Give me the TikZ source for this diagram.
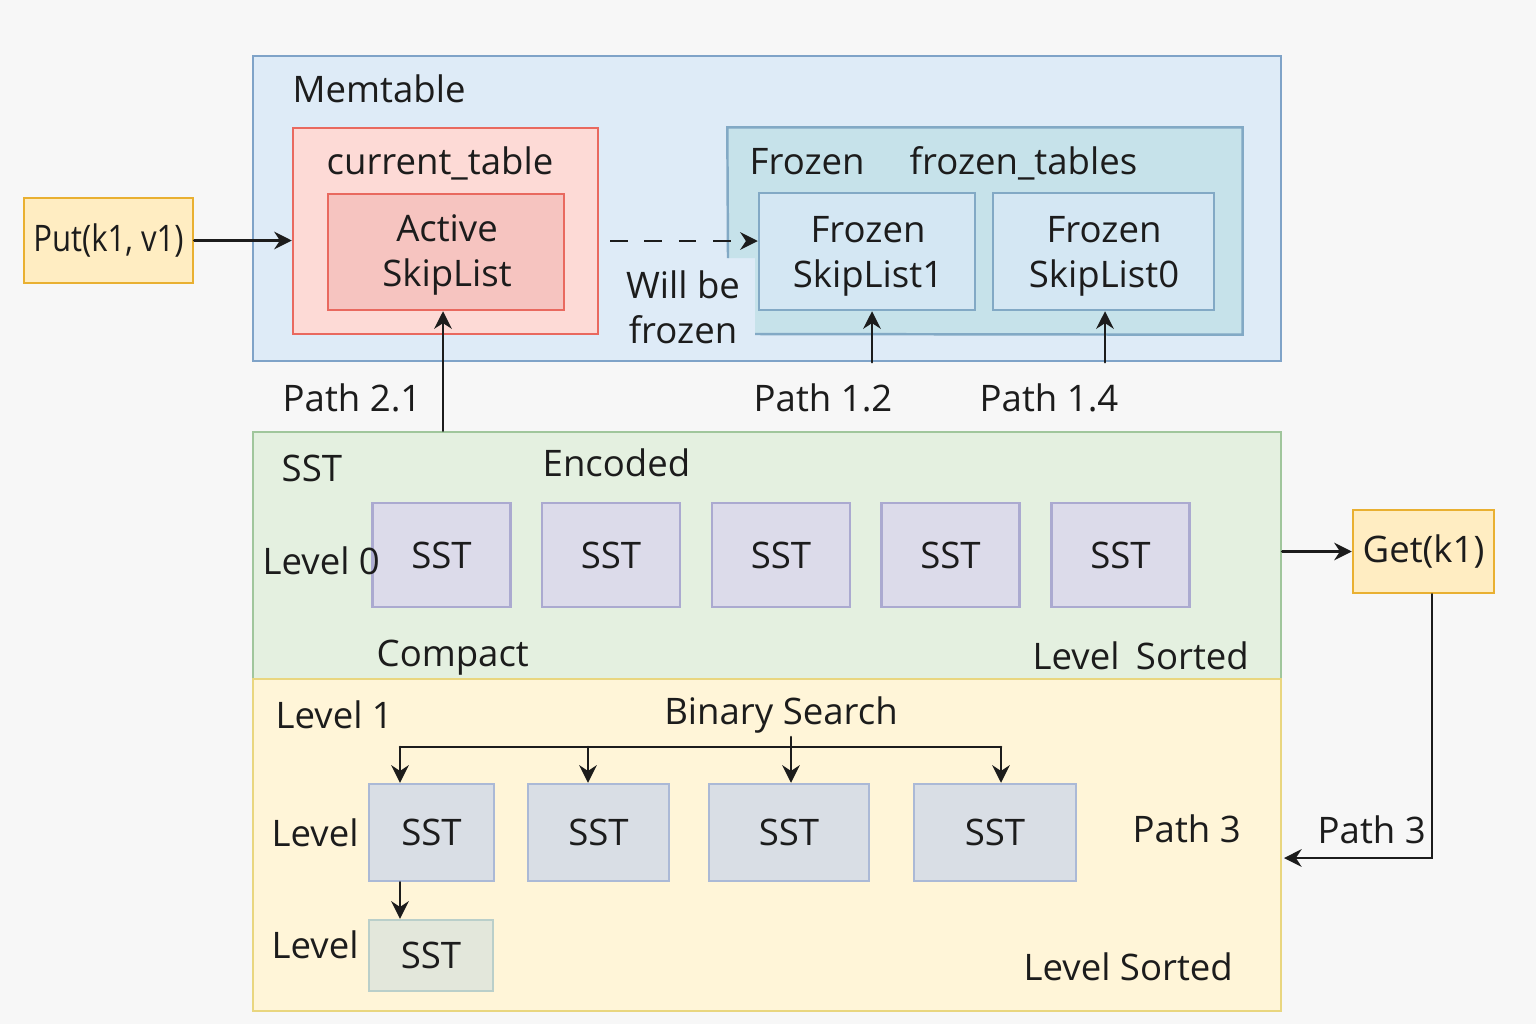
\documentclass[tikz,border=0pt]{standalone}
\usepackage{fontspec}
\setmainfont{Open Sans}
\usetikzlibrary{arrows.meta}
\definecolor{bgc}{HTML}{F7F7F7}
\definecolor{inkc}{HTML}{1C1C1C}
\definecolor{memfill}{HTML}{DEEBF7}
\definecolor{memline}{HTML}{7FA3C8}
\definecolor{curfill}{HTML}{FDDAD6}
\definecolor{curline}{HTML}{E9695F}
\definecolor{actfill}{HTML}{F6C4C0}
\definecolor{frozfill}{HTML}{C6E2EA}
\definecolor{frozline}{HTML}{82A9C5}
\definecolor{fsfill}{HTML}{D4E7F3}
\definecolor{callfill}{HTML}{FFEDC2}
\definecolor{callline}{HTML}{E9B031}
\definecolor{sstfill}{HTML}{E4F0E0}
\definecolor{sstline}{HTML}{A0C69C}
\definecolor{lzfill}{HTML}{DCDBEA}
\definecolor{lzline}{HTML}{ABAAD0}
\definecolor{yelfill}{HTML}{FFF5D8}
\definecolor{yelline}{HTML}{E9D67F}
\definecolor{lofill}{HTML}{D9DEE5}
\definecolor{loline}{HTML}{ABB9D6}
\definecolor{ltfill}{HTML}{E3E7DB}
\definecolor{ltline}{HTML}{BACFCA}

\begin{document}
\begin{tikzpicture}[>={Stealth[length=5pt,width=5pt]},line cap=round,
  font=\fontsize{10.4}{12.8}\selectfont,text=inkc,
  box/.style={draw,line width=0.7pt,inner sep=0pt,align=center},
  lbl/.style={anchor=base west,inner sep=0pt},
  wire/.style={draw=inkc,line width=0.75pt},
  lzsst/.style={box,draw=lzline,fill=lzfill,minimum width=1.38cm,minimum height=1.04cm},
  losst/.style={box,draw=loline,fill=lofill,minimum height=0.97cm}]
\fill[bgc] (0,0) rectangle (15.36,-10.24);
% memtable
\node[box,draw=memline,fill=memfill,minimum width=10.28cm,minimum height=3.05cm] (mem) at (7.67,-2.085) {};
\node[lbl] (memlbl) at (2.92,-1.02) {Memtable};
\node[box,draw=curline,fill=curfill,minimum width=3.05cm,minimum height=2.06cm] (cur) at (4.455,-2.31) {};
\node[lbl] (curlbl) at (3.26,-1.74) {current\_table};
\node[box,draw=curline,fill=actfill,minimum width=2.36cm,minimum height=1.16cm] (act) at (4.46,-2.52) {};
\node[align=center,inner sep=0pt] (acttxt) at (4.47,-2.55) {Active\\SkipList};
% frozen tables, notched at the lower left
\node[inner sep=0pt,minimum width=5.14cm,minimum height=2.06cm] (froz) at (9.85,-2.31) {};
\fill[frozfill] (froz.north west) -- (froz.north east) -- (froz.south east) -- (7.55,-3.34) -- (7.55,-2.58) -- (7.28,-2.58) -- cycle;
\draw[frozline,line width=0.7pt,line cap=butt] (7.28,-2.58) -- (froz.north west) -- (froz.north east) -- (froz.south east) -- (7.55,-3.34);
\node[lbl] (frozlbl) at (7.49,-1.74) {Frozen};
\node[lbl] (frozlist) at (9.09,-1.74) {frozen\_tables};
\node[box,draw=frozline,fill=fsfill,minimum width=2.16cm,minimum height=1.17cm] (fsa) at (8.67,-2.515) {};
\node[align=center,inner sep=0pt] (fsatxt) at (8.68,-2.56) {Frozen\\SkipList1};
\node[box,draw=frozline,fill=fsfill,minimum width=2.21cm,minimum height=1.17cm] (fsb) at (11.035,-2.515) {};
\node[align=center,inner sep=0pt] (fsbtxt) at (11.04,-2.56) {Frozen\\SkipList0};
% put
\node[box,draw=callline,fill=callfill,minimum width=1.69cm,minimum height=0.85cm] (put) at (1.085,-2.405) {\scalebox{0.85}[1]{Put(k1, v1)}};
\draw[wire,->] (put.east) -- (put.east -| cur.west);
\coordinate (wfs) at (6.10,-2.41);
\draw[wire,->,dash pattern=on 5pt off 4.8pt,line cap=butt] (wfs) -- (wfs -| fsa.west);
\node[align=center,inner sep=0pt] (wbf) at (6.83,-3.07) {Will be\\frozen};
% sst
\node[box,draw=sstline,fill=sstfill,minimum width=10.28cm,minimum height=2.47cm] (sst) at (7.67,-5.555) {};
\node[lbl] (sstlbl) at (2.81,-4.81) {SST};
\node[lbl] (enc) at (5.42,-4.76) {Encoded};
\node[lbl] (cmp) at (3.76,-6.66) {Compact};
\node[lbl] (lzs) at (10.32,-6.69) {Level\hspace{0.45em}Sorted};
\foreach \x [count=\i] in {4.415,6.11,7.81,9.505,11.205}
  \node[lzsst] (lz\i) at (\x,-5.55) {SST};
\node[lbl] (lvz) at (2.62,-5.74) {Level 0};
% paths up into memtable
\draw[wire,->] (sst.north -| 4.43,0) -- (4.43,0 |- act.south);
\node[lbl] (pa) at (2.82,-4.11) {Path 2.1};
\draw[wire,->] (mem.south -| 8.72,0) -- (8.72,0 |- fsa.south);
\node[lbl] (pb) at (7.53,-4.11) {Path 1.2};
\draw[wire,->] (mem.south -| 11.05,0) -- (11.05,0 |- fsb.south);
\node[lbl] (pc) at (9.79,-4.11) {Path 1.4};
% get
\node[box,draw=callline,fill=callfill,minimum width=1.41cm,minimum height=0.83cm] (get) at (14.235,-5.515) {Get(k1)};
\draw[wire,->] (get.west -| sst.east) -- (get.west);
% level 1 and below
\node[box,draw=yelline,fill=yelfill,minimum width=10.28cm,minimum height=3.32cm] (yel) at (7.67,-8.45) {};
\node[lbl] (lvo) at (2.75,-7.28) {Level 1};
\node[anchor=base,inner sep=0pt] (bsr) at (7.81,-7.24) {Binary Search};
\node[losst,minimum width=1.25cm] (lo1) at (4.315,-8.325) {SST};
\node[losst,minimum width=1.41cm] (lo2) at (5.985,-8.325) {SST};
\node[losst,minimum width=1.60cm] (lo3) at (7.89,-8.325) {SST};
\node[losst,minimum width=1.62cm] (lo4) at (9.95,-8.325) {SST};
\node[box,draw=ltline,fill=ltfill,minimum width=1.24cm,minimum height=0.71cm] (lt1) at (4.31,-9.555) {SST};
\node[lbl] (lvx) at (2.71,-8.46) {Level};
\node[lbl] (lvy) at (2.71,-9.58) {Level};
\node[lbl] (pin) at (11.32,-8.42) {Path 3};
\node[lbl] (los) at (10.23,-9.80) {Level Sorted};
\coordinate (b1) at (4.00,-7.47);
\coordinate (b2) at (5.88,-7.47);
\coordinate (b3) at (7.91,-7.47);
\coordinate (b4) at (10.01,-7.47);
\draw[wire] (b1) -- (b4);
\draw[wire] (b3) -- (7.91,-7.37);
\foreach \b/\t in {b1/lo1,b2/lo2,b3/lo3,b4/lo4}
  \draw[wire,->] (\b) -- (\b |- \t.north);
\draw[wire,->] (b1 |- lo1.south) -- (b1 |- lt1.north);
% path 3
\coordinate (pend) at (12.84,-8.58);
\draw[wire,->] ([xshift=0.085cm]get.south) |- (pend);
\node[lbl] (pout) at (13.17,-8.43) {Path 3};
\end{tikzpicture}
\end{document}
